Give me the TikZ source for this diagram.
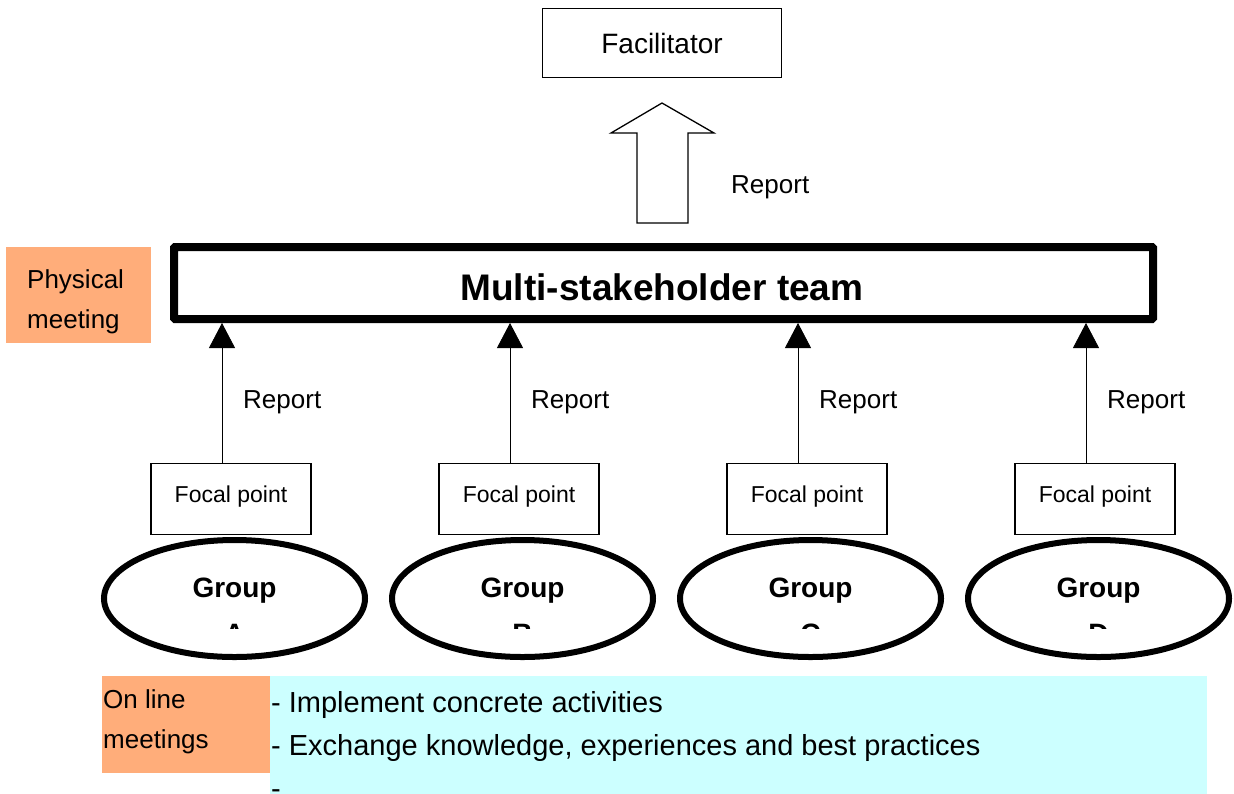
\documentclass[tikz,border=0pt]{standalone}
\usepackage{fontspec}
\setmainfont{Liberation Sans}
\usetikzlibrary{arrows.meta,shapes.geometric}
\definecolor{orng}{HTML}{FFAD7A}
\definecolor{cyn}{HTML}{CCFFFF}
\newcommand\fsz[1]{\fontsize{#1pt}{#1pt}\selectfont}
\tikzset{
  thinbox/.style={draw, line width=1.3pt, fill=white, inner sep=0pt},
  grp/.style={draw, ellipse, line width=6pt, fill=white, inner sep=0pt,
              minimum width=261pt, minimum height=117pt},
  txt/.style={inner sep=0pt, anchor=base west},
  ctxt/.style={inner sep=0pt, anchor=base},
  rep/.style={line width=0.8pt, -{Triangle[width=26pt,length=25pt]}},
  patch/.style={inner sep=0pt, outer sep=0pt, anchor=north west},
}
\begin{document}
\begin{tikzpicture}[x=1pt,y=-1pt]
\useasboundingbox (0,0) rectangle (1234,793);

% Facilitator
\node[thinbox, minimum width=239pt, minimum height=69pt, font=\fsz{28}] (fac) at (662,43) {Facilitator};

% block arrow
\draw[line width=1.3pt, fill=white] (637,223) -- (637,133) -- (611,133) -- (662,103)
  -- (714,133) -- (688,133) -- (688,223) -- cycle;
\node[txt, font=\fsz{26}] (rtop) at (731,193) {Report};

% Multi-stakeholder team
\node[draw, line width=8pt, rounded corners=1pt, fill=white, inner sep=0pt,
      minimum width=979pt, minimum height=72pt] (ms) at (663.5,283) {};
\node[ctxt, font=\bfseries\fsz{37}] (mst) at (662,300) {Multi-stakeholder team};

% Physical meeting
\node[patch, fill=orng, minimum width=145pt, minimum height=96pt] (pm) at (6,247) {};
\node[txt, font=\fsz{26}] (pm1) at (27,288) {Physical};
\node[txt, font=\fsz{26}] (pm2) at (27,328) {meeting};

% Groups, focal points, reports
\foreach \i/\L in {0/A,1/B,2/C,3/D}{
  \pgfmathsetmacro{\ex}{234.5+288*\i}
  \pgfmathsetmacro{\fx}{231+288*\i}
  \pgfmathsetmacro{\rx}{243+288*\i}
  \node[grp] (g\L) at (\ex,598.5) {};
  \node[ctxt, font=\bfseries\fsz{28}] (gt\L) at (\ex,597) {Group};
  \begin{scope}
    \clip (\ex-60,600) rectangle (\ex+60,628);
    \node[ctxt, font=\bfseries\fsz{28}] (gl\L) at (\ex,643) {\L};
  \end{scope}
  \node[thinbox, minimum width=160pt, minimum height=71pt] (f\L) at (\fx,499) {};
  \node[ctxt, font=\fsz{23}] (ft\L) at (\fx,502) {Focal point};
  \draw[rep] ([xshift=-9pt]f\L.north) -- ([xshift=-9pt]f\L.north |- ms.south);
  \node[txt, font=\fsz{26}] (r\L) at (\rx,408) {Report};
}

% Online meetings
\node[patch, fill=orng, minimum width=169pt, minimum height=97pt] (ol) at (102,676) {};
\node[txt, font=\fsz{26}] (ol1) at (103,708) {On line};
\node[txt, font=\fsz{26}] (ol2) at (103,748) {meetings};
\node[patch, fill=cyn, minimum width=937pt, minimum height=130pt] (act) at (270,676) {};
\node[txt, font=\fsz{29}] (a1) at (271,712) {- Implement concrete activities};
\node[txt, font=\fsz{29}] (a2) at (271,755) {- Exchange knowledge, experiences and best practices};
\node[txt, font=\fsz{29}] (a3) at (271,798) {-};
\end{tikzpicture}
\end{document}
